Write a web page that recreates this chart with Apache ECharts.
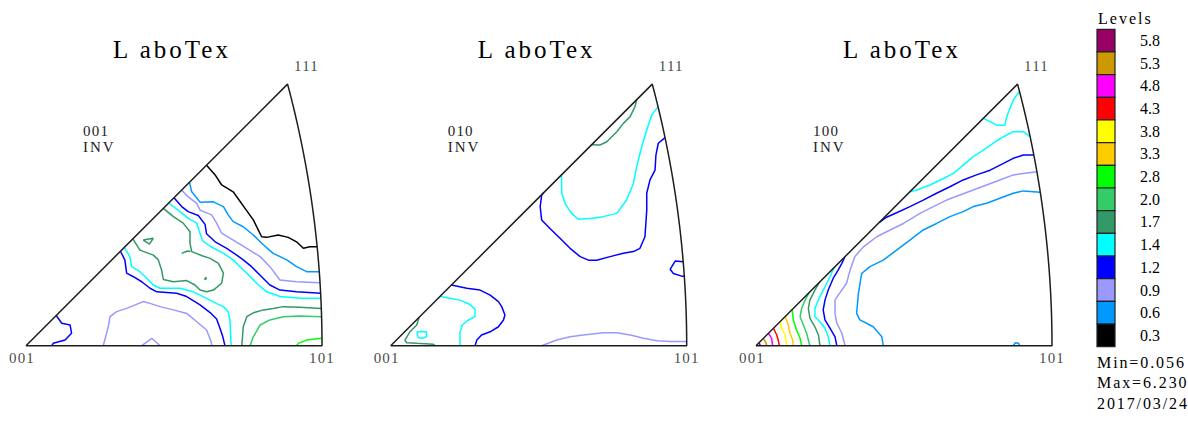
<!DOCTYPE html>
<html><head><meta charset="utf-8">
<script src="https://cdn.jsdelivr.net/npm/echarts@6/dist/echarts.min.js"></script>
<style>html,body{margin:0;padding:0;background:#fff}#c{width:1188px;height:423px}</style>
</head><body><div id="c"></div>
<script>
// ---------- legend / labels ----------
const levelValues = ['5.8','5.3','4.8','4.3','3.8','3.3','2.8','2.0','1.7','1.4','1.2','0.9','0.6','0.3'];
const levelColors = ['#990066','#cc9900','#ff00ff','#ff0000','#ffff00','#ffcc00','#00ff00','#33cc66','#339966','#00ffff','#0000ff','#9999ff','#0099ff','#000000'];
const panelTitles = ['L aboTex','L aboTex','L aboTex'];
const panelPoles = ['001','010','100'];
const poleKind = 'INV';
const cornerLabels = ['001','101','111'];
const legendTitle = 'Levels';
const statLines = ['Min=0.056','Max=6.230','2017/03/24'];

// ---------- contour lines (stereographic units, 101 at x = 100) ----------
// panel 1 (001)
const t1_c03  = [[61.0,61.0],[63.9,57.7],[66.1,54.3],[70.0,52.0],[71.2,50.3],[74.0,46.4],[76.8,42.5],[79.6,36.8],[81.3,36.6],[85.2,37.4],[88.6,36.6],[91.4,35.1],[93.7,32.9],[95.9,33.4],[98.4,33.4]];
const t1_c06  = [[55.2,55.2],[56.0,52.0],[58.8,48.5],[63.3,48.6],[66.7,47.0],[68.3,44.2],[70.0,41.9],[73.4,40.2],[76.8,37.4],[79.6,34.6],[83.5,31.2],[88.1,29.0],[91.4,26.7],[94.8,25.0],[99.1,25.0]];
const t1_c09a = [[52.6,52.6],[54.5,50.5],[57.7,48.1],[58.8,45.8],[62.7,44.2],[64.4,41.4],[66.1,38.0],[70.0,35.7],[74.6,32.9],[79.1,30.1],[82.4,26.7],[85.8,22.2],[91.4,21.6],[99.3,21.3]];
const t1_c12a = [[50.0,50.0],[52.6,47.0],[54.8,45.3],[58.2,44.0],[60.5,41.0],[61.0,37.8],[63.9,35.1],[67.8,32.9],[71.2,30.6],[73.4,29.0],[76.2,26.7],[79.6,23.3],[82.4,20.5],[85.8,18.8],[91.4,18.2],[99.5,17.7]];
const t1_c14a = [[48.2,48.2],[52.0,45.3],[54.8,43.0],[57.7,41.4],[58.6,38.5],[59.7,35.4],[62.2,33.6],[66.7,31.2],[70.0,29.0],[72.3,26.7],[74.6,24.5],[77.9,21.1],[81.3,18.2],[85.8,16.6],[92.6,16.0],[99.6,16.0]];
const t1_c17a = [[46.4,46.4],[49.8,43.6],[53.1,41.4],[55.4,38.5],[55.4,34.6],[56.0,31.8],[59.5,30.4],[62.2,29.5],[65.0,27.8],[66.7,24.5],[66.1,21.1],[63.3,18.8],[61.0,18.2],[58.8,18.8],[57.1,20.5],[54.3,22.0],[49.8,21.6],[46.4,22.4],[45.8,25.6],[44.7,29.0],[43.0,30.6],[38.5,32.3],[36.1,36.1]];
const t1_c17b = [[39.6,35.7],[43.0,36.3],[41.7,34.3],[39.6,35.7]];
const t1_c17c = [[52.6,31.2],[54.5,32.0],[55.6,31.8]];
const t1_c17d = [[60.3,22.6],[60.9,23.1],[60.7,22.3],[60.3,22.6]];
const t1_c14b = [[33.2,33.2],[35.1,30.1],[35.7,26.7],[38.5,25.0],[40.8,22.8],[43.0,20.5],[45.3,19.4],[52.0,19.4],[56.5,18.2],[61.0,16.0],[64.4,14.2],[66.7,13.2],[68.3,11.5],[68.9,8.7],[69.3,0]];
const t1_c12b = [[31.9,31.9],[33.4,29.0],[34.0,24.5],[36.3,23.3],[39.1,21.6],[41.9,19.4],[44.2,18.2],[50.9,17.7],[54.3,16.6],[58.8,13.8],[62.2,11.2],[64.4,9.0],[65.5,6.0],[66.5,3.0],[67.2,0]];
const t1_c09b = [[26.1,0],[27.8,6.4],[28.4,9.8],[30.6,11.5],[34.0,12.6],[39.6,14.9],[41.9,14.3],[45.3,13.2],[49.8,12.1],[54.3,10.9],[57.7,8.1],[61.0,5.3],[62.5,1.5],[62.8,0]];
const t1_c09c = [[39.1,0],[42.5,2.5],[45.3,0]];
const t1_c12c = [[10.2,10.2],[12.1,7.6],[14.9,7.0],[15.4,4.2],[13.2,1.9],[9.2,0.8],[8.7,0]];
const t1_c17e = [[72.9,0],[73.4,6.4],[74.6,9.8],[76.8,11.1],[80.2,12.1],[83.5,12.6],[86.9,13.2],[92.6,13.0],[99.7,12.6]];
const t1_c20  = [[75.7,0],[76.8,3.0],[79.1,7.0],[82.4,8.7],[86.9,9.8],[92.6,10.0],[99.8,9.8]];
const t1_c28  = [[91.4,0],[92.0,0.8],[94.8,1.9],[97.6,2.3],[100,2.5]];
// panel 2 (010)
const t2_c17a = [[83.1,83.1],[82.5,80.7],[80.9,77.4],[78.6,75.1],[76.4,72.3],[73.0,68.9],[70.7,67.8],[67.9,67.9]];
const t2_c14a = [[90.3,80.7],[88.2,77.9],[86.5,72.9],[84.8,67.2],[83.1,60.5],[82.0,54.8],[79.7,49.2],[76.4,44.7],[71.8,43.6],[67.3,43.0],[63.4,42.7],[61.1,44.7],[58.9,48.1],[57.8,51.5],[57.7,57.7]];
const t2_c12a = [[92.6,70.2],[90.4,68.4],[89.6,64.4],[89.3,59.3],[87.6,56.0],[86.5,51.5],[86.5,45.8],[85.9,36.8],[84.2,32.9],[82.0,31.8],[78.6,31.2],[74.1,30.1],[69.6,28.9],[66.8,28.9],[64.0,30.1],[60.6,32.9],[57.2,36.3],[53.8,39.6],[51.0,42.5],[50.5,47.0],[51.0,50.9],[51.6,51.6]];
const t2_c12b = [[98.8,28.4],[96.1,28.6],[94.4,25.8],[95.5,24.4],[98.3,23.5],[99.1,23.5]];
const t2_c09  = [[51.0,0],[56.1,1.9],[60.6,3.0],[65.1,3.6],[71.8,4.4],[76.4,4.4],[80.9,3.6],[85.4,2.5],[89.9,1.7],[94.4,1.4],[100,1.4]];
const t2_c12c = [[20.5,20.5],[25.7,19.4],[30.2,18.8],[33.6,17.1],[36.4,14.9],[37.5,13.2],[38.6,10.4],[38.1,8.7],[36.4,6.4],[33.6,4.7],[30.7,3.6],[29.1,1.9],[28.5,0]];
const t2_c14b = [[16.7,16.7],[20.0,16.0],[23.4,15.4],[26.8,13.9],[28.5,12.2],[28.5,9.8],[26.0,8.5],[24.2,7.0],[23.4,4.5],[23.4,0]];
const t2_c14c = [[8.8,4.7],[12.1,4.7],[12.1,3.0],[10.5,2.5],[9.3,2.8],[8.8,4.7]];
const t2_c17b = [[9.6,9.6],[8.8,7.0],[6.5,4.7],[4.8,1.9],[5.4,1.0],[8.8,0.8],[14.4,0.5],[15.0,0]];
// panel 3 (100)
const t3_c14a = [[88.9,85.8],[86.9,83.0],[85.6,79.6],[84.7,77.4],[84.1,74.5],[81.3,74.5],[79.1,75.7],[76.8,76.8]];
const t3_c14b = [[92.6,70.6],[90.3,72.3],[86.9,72.3],[83.6,70.6],[80.2,68.4],[76.8,66.1],[73.4,63.9],[70.0,61.0],[66.7,58.2],[63.3,56.5],[58.8,54.3],[54.3,52.6],[52.0,52.0]];
const t3_c12a = [[93.9,64.4],[90.3,64.4],[86.9,63.3],[83.6,61.6],[79.1,59.3],[74.5,57.7],[70.0,56.0],[65.5,53.7],[61.0,51.5],[56.5,49.2],[52.0,47.0],[47.5,44.9],[44.1,43.4],[41.7,41.7]];
const t3_c09  = [[94.9,58.8],[90.3,58.2],[86.9,57.7],[82.4,56.0],[77.9,54.3],[73.4,52.6],[68.9,50.9],[64.4,49.2],[59.9,47.0],[55.4,44.7],[49.8,41.3],[45.3,39.1],[40.8,36.8],[36.3,33.4],[33.4,30.1],[31.8,25.6],[30.6,21.1],[27.8,17.1],[26.7,15.4],[26.7,10.9],[27.3,7.6],[29.0,4.2],[30.1,0]];
const t3_c06  = [[96.0,51.8],[90.3,52.3],[86.9,51.5],[82.4,49.8],[77.9,48.1],[73.4,47.0],[70.0,45.3],[65.5,43.6],[61.0,41.3],[56.5,39.1],[52.0,35.7],[47.5,32.3],[43.0,28.9],[38.5,26.7],[35.7,24.4],[34.6,17.7],[34.0,10.9],[35.1,8.7],[39.6,6.4],[42.5,3.0],[43.0,0]];
const t3_c06b = [[86.9,0],[87.6,1.0],[88.7,0.8],[89.1,0]];
const t3_c12b = [[30.0,30.0],[29.0,27.8],[27.8,25.6],[26.1,22.8],[24.4,18.8],[23.3,15.4],[22.7,12.1],[23.3,8.7],[25.0,5.9],[26.7,3.0],[27.3,0]];
const t3_c14c = [[26.3,26.3],[25.0,23.3],[23.3,19.9],[21.6,16.6],[19.9,12.6],[19.9,9.8],[21.6,8.1],[23.3,5.9],[24.4,3.0],[25.0,0]];
const t3_c17  = [[21.4,21.4],[19.9,18.8],[18.2,15.4],[17.7,12.6],[18.2,9.3],[19.9,6.4],[21.1,3.6],[21.6,0]];
const t3_c20  = [[18.0,18.0],[16.6,15.4],[15.4,12.6],[14.9,9.8],[16.0,7.0],[17.1,4.2],[18.2,0]];
const t3_c28  = [[12.2,12.2],[12.6,8.7],[13.7,5.3],[14.9,2.5],[15.4,0]];
const t3_c33  = [[9.9,9.9],[10.9,7.0],[11.5,4.2],[12.4,1.9],[12.6,0]];
const t3_c38  = [[8.2,8.2],[8.7,5.9],[9.8,3.6],[10.4,0]];
const t3_c43  = [[5.9,5.9],[7.0,3.6],[7.5,1.9],[7.9,0]];
const t3_c48  = [[4.2,4.2],[5.3,2.5],[5.6,0]];
const t3_c53  = [[2.5,2.5],[3.4,0.9],[3.6,0]];
const t3_c58  = [[1.0,1.0],[1.5,0]];

const contours = [
  [0,'0.3',t1_c03],[0,'0.6',t1_c06],[0,'0.9',t1_c09a],[0,'1.2',t1_c12a],[0,'1.4',t1_c14a],
  [0,'1.7',t1_c17a],[0,'1.7',t1_c17b],[0,'1.7',t1_c17c],[0,'1.7',t1_c17d],[0,'1.4',t1_c14b],
  [0,'1.2',t1_c12b],[0,'0.9',t1_c09b],[0,'0.9',t1_c09c],[0,'1.2',t1_c12c],[0,'1.7',t1_c17e],
  [0,'2.0',t1_c20],[0,'2.8',t1_c28],
  [1,'1.7',t2_c17a],[1,'1.4',t2_c14a],[1,'1.2',t2_c12a],[1,'1.2',t2_c12b],[1,'0.9',t2_c09],
  [1,'1.2',t2_c12c],[1,'1.4',t2_c14b],[1,'1.4',t2_c14c],[1,'1.7',t2_c17b],
  [2,'1.4',t3_c14a],[2,'1.4',t3_c14b],[2,'1.2',t3_c12a],[2,'0.9',t3_c09],[2,'0.6',t3_c06],
  [2,'0.6',t3_c06b],[2,'1.2',t3_c12b],[2,'1.4',t3_c14c],[2,'1.7',t3_c17],[2,'2.0',t3_c20],
  [2,'2.8',t3_c28],[2,'3.3',t3_c33],[2,'3.8',t3_c38],[2,'4.3',t3_c43],[2,'4.8',t3_c48],
  [2,'5.3',t3_c53],[2,'5.8',t3_c58]
];

// ---------- geometry of the standard stereographic triangle ----------
const K = 100 / Math.tan(Math.PI / 8);          // scale so that 101 sits at x = 100
const P111 = K * (Math.sqrt(3) - 1) / 2;        // x = y of the 111 pole
function triangleOutline() {
  const pts = [[0, 0], [100, 0]];
  const cx = -K, r = K * Math.SQRT2;
  const a1 = Math.atan2(P111, P111 - cx);
  for (let i = 1; i <= 40; i++) {
    const a = a1 * i / 40;
    pts.push([cx + r * Math.cos(a), r * Math.sin(a)]);
  }
  pts.push([0, 0]);
  return pts;
}
const outline = triangleOutline();

// ---------- layout ----------
const PX = 2.96;                      // pixels per unit
const gridLefts = [26, 390.7, 756];
const gridTop = 345.7 - P111 * PX;
const serif = 'Liberation Serif, Times New Roman, serif';
const colorOf = lv => levelColors[levelValues.indexOf(lv)];
const txt = (x, y, text, size, align, fill) => ({type: 'text', x: x, y: y,
  style: {text: text, fill: fill || '#000', font: size + 'px ' + serif,
    textAlign: align, textVerticalAlign: 'middle', align: align, verticalAlign: 'middle'}});

const grids = [], xAxes = [], yAxes = [], series = [], graphics = [];
gridLefts.forEach((gl, i) => {
  grids.push({left: gl, top: gridTop, width: 100 * PX, height: P111 * PX, containLabel: false, outerBoundsMode: 'none'});
  xAxes.push({type: 'value', gridIndex: i, min: 0, max: 100, show: false});
  yAxes.push({type: 'value', gridIndex: i, min: 0, max: P111, show: false});
});
contours.forEach(([p, lv, pts]) => {
  series.push({type: 'line', xAxisIndex: p, yAxisIndex: p, data: pts, showSymbol: false, symbol: 'none',
    clip: false, silent: true, animation: false, z: 2,
    lineStyle: {color: colorOf(lv), width: 1.5}});
});
gridLefts.forEach((gl, i) => {
  series.push({type: 'line', xAxisIndex: i, yAxisIndex: i, data: outline, showSymbol: false, symbol: 'none',
    clip: false, silent: true, animation: false, z: 3, lineStyle: {color: '#1e1e1e', width: 1.5}});
  series.push({type: 'scatter', xAxisIndex: i, yAxisIndex: i, symbolSize: 0, silent: true, animation: false, z: 4,
    data: [
      {value: [0, 0], name: cornerLabels[0], label: {offset: [-4, 12]}},
      {value: [100, 0], name: cornerLabels[1], label: {offset: [0, 12]}},
      {value: [P111, P111], name: cornerLabels[2], label: {offset: [19, -18]}}
    ],
    label: {show: true, position: 'inside', formatter: d => d.name, color: '#111', fontFamily: serif, fontSize: 15}});
  graphics.push(txt(gl + 146, 49.5, panelTitles[i], 25, 'center'));
  graphics.push(txt(gl + 57, 131, panelPoles[i], 15, 'left', '#222'));
  graphics.push(txt(gl + 57, 147, poleKind, 15, 'left', '#222'));
});

// legend
const boxX = 1097, boxTop = 29.3, boxW = 18, boxH = 22.67;
graphics.push(txt(1098, 18, legendTitle, 16, 'left'));
levelValues.forEach((lv, i) => {
  graphics.push({type: 'rect', shape: {x: boxX, y: boxTop + i * boxH, width: boxW, height: boxH},
    style: {fill: levelColors[i], stroke: '#222', lineWidth: 1.2}});
  graphics.push(txt(1150, boxTop + (i + 0.5) * boxH, lv, 16, 'center'));
});
statLines.forEach((s, i) => graphics.push(txt(1097, 362 + i * 20.5, s, 16, 'left')));

const chart = echarts.init(document.getElementById('c'), null, {renderer: 'svg'});
chart.setOption({
  animation: false, backgroundColor: '#fff',
  grid: grids, xAxis: xAxes, yAxis: yAxes, series: series, graphic: {elements: graphics}
});

// the original program renders its text with wide character spacing
const spacing = new Map();
panelTitles.forEach(t => spacing.set(t, '3px'));
statLines.forEach(t => spacing.set(t, '1.9px'));
spacing.set(legendTitle, '2px');
spacing.set(poleKind, '2px');
panelPoles.concat(cornerLabels).forEach(t => spacing.set(t, '1.2px'));
document.querySelectorAll('#c svg text').forEach(el => {
  const s = spacing.get(el.textContent.trim());
  if (s) el.setAttribute('letter-spacing', s);
});
</script></body></html>
